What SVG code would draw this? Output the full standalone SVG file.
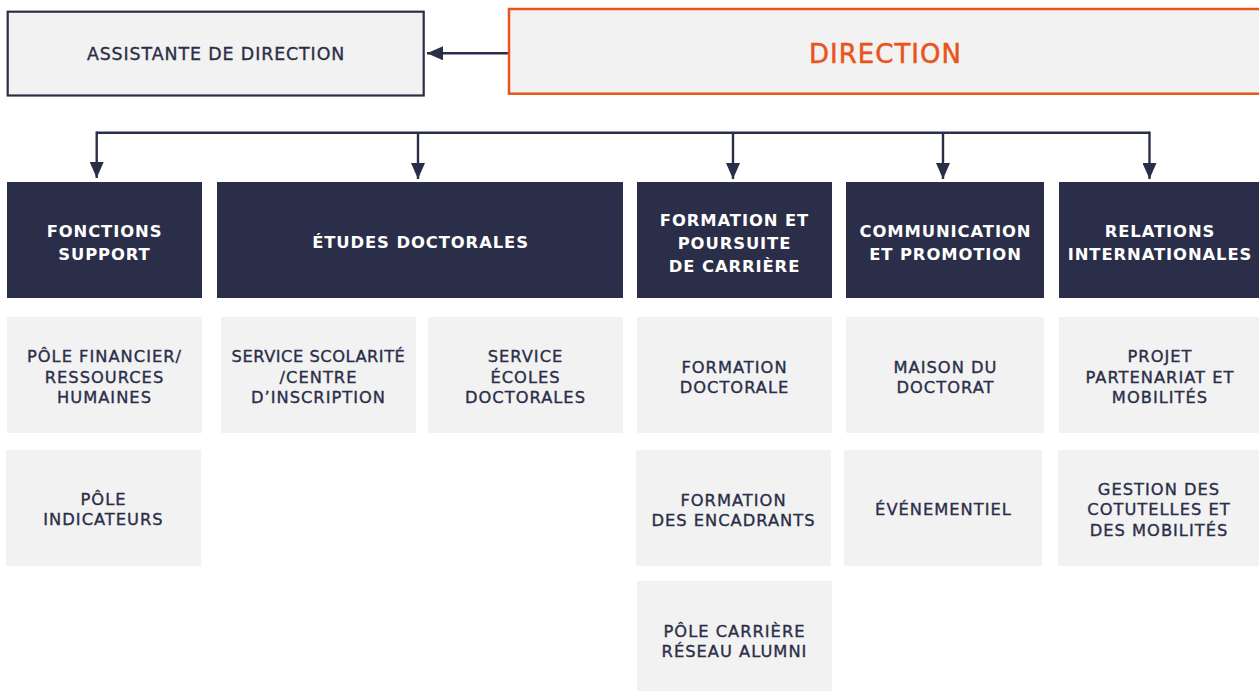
<svg xmlns="http://www.w3.org/2000/svg" width="1259" height="691" viewBox="0 0 1259 691">
<style>
.hd{fill:#2b2e48}
.sb{fill:#f2f2f2}
.ht{font-family:"DejaVu Sans",sans-serif;font-weight:bold;font-size:16.4px;fill:#ffffff;letter-spacing:0.9px;text-anchor:middle}
.st{font-family:"DejaVu Sans",sans-serif;font-size:16.3px;fill:#2b2e48;stroke:#2b2e48;stroke-width:0.35;letter-spacing:1px;text-anchor:middle}
.con{stroke:#2b2e48;stroke-width:2.4;fill:none}
</style>
<defs>
<marker id="ah" markerUnits="userSpaceOnUse" markerWidth="16" markerHeight="14" refX="16" refY="7" orient="auto">
<path d="M0,0 L16,7 L0,14 z" fill="#2b2e48"/>
</marker>
</defs>
<rect width="1259" height="691" fill="#ffffff"/>

<g id="connectors">
<line class="con" x1="509" y1="53.3" x2="427" y2="53.3" marker-end="url(#ah)"/>
<line class="con" x1="96.7" y1="132.7" x2="1149.5" y2="132.7"/>
<line class="con" x1="96.7" y1="131.5" x2="96.7" y2="178" marker-end="url(#ah)"/>
<line class="con" x1="418" y1="132.7" x2="418" y2="179" marker-end="url(#ah)"/>
<line class="con" x1="733" y1="132.7" x2="733" y2="179" marker-end="url(#ah)"/>
<line class="con" x1="943" y1="132.7" x2="943" y2="179" marker-end="url(#ah)"/>
<line class="con" x1="1149.5" y1="131.5" x2="1149.5" y2="179" marker-end="url(#ah)"/>
</g>

<g id="assistante">
<rect x="7.7" y="11.7" width="416" height="83.8" fill="#f2f2f2" stroke="#2b2e48" stroke-width="2.2"/>
<text class="st" x="216" y="59.5" style="font-size:17.4px;letter-spacing:0.9px">ASSISTANTE DE DIRECTION</text>
</g>

<g id="direction">
<rect x="509" y="9" width="770" height="84.7" fill="#f2f2f2" stroke="#e9541c" stroke-width="2.5"/>
<text x="885.5" y="62.5" style="font-family:'DejaVu Sans',sans-serif;font-size:26px;fill:#e9541c;stroke:#e9541c;stroke-width:0.5;letter-spacing:1px;text-anchor:middle">DIRECTION</text>
</g>

<g id="fonctions-support">
<rect class="hd" x="7" y="182" width="195" height="116"/>
<text class="ht" x="104.5" y="237"><tspan x="104.5">FONCTIONS</tspan><tspan x="104.5" dy="23">SUPPORT</tspan></text>
</g>
<g id="etudes-doctorales">
<rect class="hd" x="217" y="182" width="406" height="116"/>
<text class="ht" x="420.5" y="247.5">ÉTUDES DOCTORALES</text>
</g>
<g id="formation-poursuite">
<rect class="hd" x="637" y="182" width="195" height="116"/>
<text class="ht" x="734.5" y="225.5"><tspan x="734.5">FORMATION ET</tspan><tspan x="734.5" dy="23">POURSUITE</tspan><tspan x="734.5" dy="23">DE CARRIÈRE</tspan></text>
</g>
<g id="communication">
<rect class="hd" x="846" y="182" width="198" height="116"/>
<text class="ht" x="945.5" y="237"><tspan x="945.5">COMMUNICATION</tspan><tspan x="945.5" dy="23">ET PROMOTION</tspan></text>
</g>
<g id="relations">
<rect class="hd" x="1059" y="182" width="200" height="116"/>
<text class="ht" x="1160" y="237"><tspan x="1160">RELATIONS</tspan><tspan x="1160" dy="23">INTERNATIONALES</tspan></text>
</g>

<g id="pole-financier">
<rect class="sb" x="7" y="317" width="195" height="116"/>
<text class="st" x="104.5" y="362"><tspan x="104.5">PÔLE FINANCIER/</tspan><tspan x="104.5" dy="20.5">RESSOURCES</tspan><tspan x="104.5" dy="20.5">HUMAINES</tspan></text>
</g>
<g id="service-scolarite">
<rect class="sb" x="221" y="317" width="195" height="116"/>
<text class="st" x="318.5" y="362"><tspan x="318.5" style="letter-spacing:0.5px">SERVICE SCOLARITÉ</tspan><tspan x="318.5" dy="20.5">/CENTRE</tspan><tspan x="318.5" dy="20.5">D’INSCRIPTION</tspan></text>
</g>
<g id="service-ecoles">
<rect class="sb" x="428" y="317" width="195" height="116"/>
<text class="st" x="525.5" y="362"><tspan x="525.5">SERVICE</tspan><tspan x="525.5" dy="20.5">ÉCOLES</tspan><tspan x="525.5" dy="20.5">DOCTORALES</tspan></text>
</g>
<g id="formation-doctorale">
<rect class="sb" x="637" y="317" width="195" height="116"/>
<text class="st" x="734.5" y="372.5"><tspan x="734.5">FORMATION</tspan><tspan x="734.5" dy="20.5">DOCTORALE</tspan></text>
</g>
<g id="maison-doctorat">
<rect class="sb" x="846" y="317" width="198" height="116"/>
<text class="st" x="945.5" y="372.5"><tspan x="945.5">MAISON DU</tspan><tspan x="945.5" dy="20.5">DOCTORAT</tspan></text>
</g>
<g id="projet-partenariat">
<rect class="sb" x="1059" y="317" width="200" height="116"/>
<text class="st" x="1160" y="362"><tspan x="1160">PROJET</tspan><tspan x="1160" dy="20.5">PARTENARIAT ET</tspan><tspan x="1160" dy="20.5">MOBILITÉS</tspan></text>
</g>

<g id="pole-indicateurs">
<rect class="sb" x="6" y="450" width="195" height="116"/>
<text class="st" x="103.5" y="504.5"><tspan x="103.5">PÔLE</tspan><tspan x="103.5" dy="20.5">INDICATEURS</tspan></text>
</g>
<g id="formation-encadrants">
<rect class="sb" x="636" y="450" width="195" height="116"/>
<text class="st" x="733.5" y="505.5"><tspan x="733.5">FORMATION</tspan><tspan x="733.5" dy="20.5">DES ENCADRANTS</tspan></text>
</g>
<g id="evenementiel">
<rect class="sb" x="844" y="450" width="198" height="116"/>
<text class="st" x="943.5" y="515">ÉVÉNEMENTIEL</text>
</g>
<g id="gestion-cotutelles">
<rect class="sb" x="1058" y="450" width="201" height="116"/>
<text class="st" x="1159" y="494.5"><tspan x="1159">GESTION DES</tspan><tspan x="1159" dy="20.5">COTUTELLES ET</tspan><tspan x="1159" dy="20.5">DES MOBILITÉS</tspan></text>
</g>
<g id="pole-carriere">
<rect class="sb" x="637" y="581" width="195" height="110"/>
<text class="st" x="734.5" y="636.5"><tspan x="734.5">PÔLE CARRIÈRE</tspan><tspan x="734.5" dy="20.5">RÉSEAU ALUMNI</tspan></text>
</g>
</svg>
